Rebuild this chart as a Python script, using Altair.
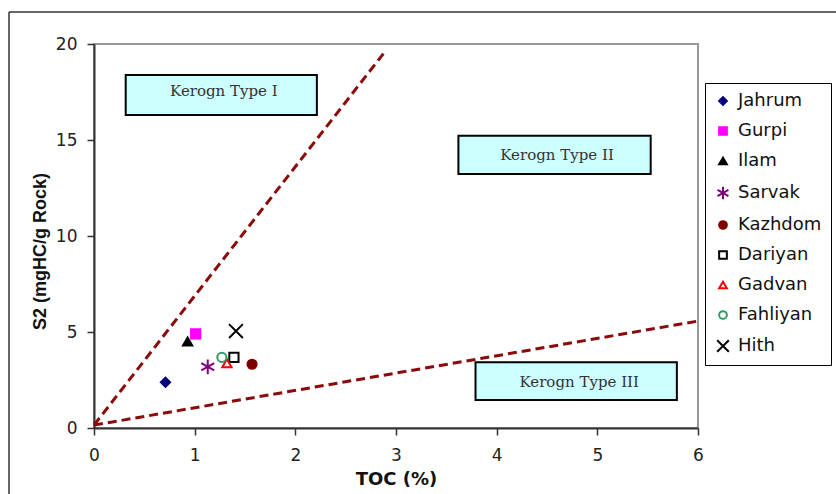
import altair as alt
import pandas as pd

# ---- data ----
formations = ["Jahrum", "Gurpi", "Ilam", "Sarvak", "Kazhdom", "Dariyan", "Gadvan", "Fahliyan", "Hith"]
toc = [0.71, 1.01, 0.93, 1.13, 1.57, 1.39, 1.32, 1.27, 1.41]
s2 = [2.38, 4.90, 4.50, 3.19, 3.32, 3.68, 3.37, 3.68, 5.05]

# boundary lines between kerogen types
line_name = ["I", "I", "III", "III"]
line_toc = [0.0, 2.89, 0.0, 6.0]
line_s2 = [0.15, 19.6, 0.15, 5.57]

# kerogen labels and their boxes
box_label = ["Kerogn Type I", "Kerogn Type II", "Kerogn Type III"]
box_x1 = [0.315, 3.62, 3.79]
box_x2 = [2.214, 5.53, 5.79]
box_y1 = [16.30, 13.23, 1.46]
box_y2 = [18.39, 15.22, 3.42]
label_x = [1.29, 4.60, 4.82]
label_y = [17.55, 14.22, 2.38]

# ---- styles ----
shapes = [
    "diamond", "square", "triangle-up",
    "M0,-1.6L0,1.6M-1.4,-0.8L1.4,0.8M-1.4,0.8L1.4,-0.8",
    "circle", "square", "triangle-up", "circle",
    "M-1.5,-1.5L1.5,1.5M-1.5,1.5L1.5,-1.5",
]
strokes = ["#000080", "#FF00FF", "#000000", "#800080", "#800000", "#000000", "#FF0000", "#339966", "#000000"]
fills = ["#000080", "#FF00FF", "#000000", "#800080", "#800000", "#FFFFFF", "#FFFFFF", "#FFFFFF", "#000000"]

pts = pd.DataFrame({"Formation": formations, "TOC": toc, "S2": s2})
lines = pd.DataFrame({"name": line_name, "TOC": line_toc, "S2": line_s2})
boxes = pd.DataFrame({"label": box_label, "x1": box_x1, "x2": box_x2, "y1": box_y1, "y2": box_y2,
                      "lx": label_x, "ly": label_y})

xs = alt.Scale(domain=[0, 6], nice=False)
ys = alt.Scale(domain=[0, 20], nice=False)

xaxis = alt.Axis(values=[0, 1, 2, 3, 4, 5, 6], format="d", title="TOC (%)",
                 labelPadding=12, titlePadding=7, labelFlush=False,
                 titleFont="DejaVu Sans", titleFontSize=18)
yaxis = alt.Axis(values=[0, 5, 10, 15, 20], format="d", title="S2 (mgHC/g Rock)",
                 labelPadding=10, titlePadding=6, titleY=207, labelFlush=False,
                 titleFont="Liberation Sans", titleFontSize=18)

line_layer = alt.Chart(lines).mark_line(
    color="#8B0A0A", strokeWidth=3, strokeDash=[9, 5]
).encode(
    x=alt.X("TOC:Q", scale=xs, axis=xaxis),
    y=alt.Y("S2:Q", scale=ys, axis=yaxis),
    detail="name:N",
)

rect_layer = alt.Chart(boxes).mark_rect(
    fill="#CCFFFF", stroke="#000000", strokeWidth=2
).encode(
    x=alt.X("x1:Q", scale=xs), x2="x2:Q",
    y=alt.Y("y1:Q", scale=ys), y2="y2:Q",
)

text_layer = alt.Chart(boxes).mark_text(
    font="DejaVu Serif", fontSize=15, color="#333333"
).encode(
    x=alt.X("lx:Q", scale=xs),
    y=alt.Y("ly:Q", scale=ys),
    text="label:N",
)

leg = alt.Legend(title=None, orient="none", legendX=611, legendY=39)
point_layer = alt.Chart(pts).mark_point(
    size=85, strokeWidth=2, opacity=1, fillOpacity=1
).encode(
    x=alt.X("TOC:Q", scale=xs),
    y=alt.Y("S2:Q", scale=ys),
    shape=alt.Shape("Formation:N", scale=alt.Scale(domain=formations, range=shapes), sort=formations, legend=leg),
    stroke=alt.Stroke("Formation:N", scale=alt.Scale(domain=formations, range=strokes), sort=formations, legend=leg),
    fill=alt.Fill("Formation:N", scale=alt.Scale(domain=formations, range=fills), sort=formations, legend=leg),
)

frame_df = pd.DataFrame({"k": [0]})
frame_v = alt.Chart(frame_df).mark_rule(color="#333333", strokeWidth=1.5).encode(
    x=alt.value(-85), y=alt.value(-32), y2=alt.value(520))
frame_h = alt.Chart(frame_df).mark_rule(color="#333333", strokeWidth=1.5).encode(
    x=alt.value(-85), x2=alt.value(800), y=alt.value(-32))

chart = alt.layer(
    frame_v, frame_h, line_layer, rect_layer, text_layer, point_layer
).properties(
    width=604, height=384,
    padding={"left": 94, "top": 44, "right": 138, "bottom": 66},
    autosize=alt.AutoSizeParams(type="none"),
).configure_view(
    stroke="#999999", strokeWidth=2
).configure_axis(
    grid=False,
    labelFont="DejaVu Sans", labelFontSize=17, labelColor="#222222",
    titleFontWeight="bold", titleColor="#111111",
    domainColor="#333333", domainWidth=2, tickColor="#333333", tickSize=7, tickWidth=1.5,
).configure_legend(
    labelFont="DejaVu Sans", labelFontSize=18, labelColor="#111111", labelOffset=6,
    fillColor="#FFFFFF", strokeColor="#000000", padding=9,
    rowPadding=12, symbolSize=60, symbolStrokeWidth=2,
)

chart.save("out.html", embed_options={"renderer": "svg", "actions": False})
